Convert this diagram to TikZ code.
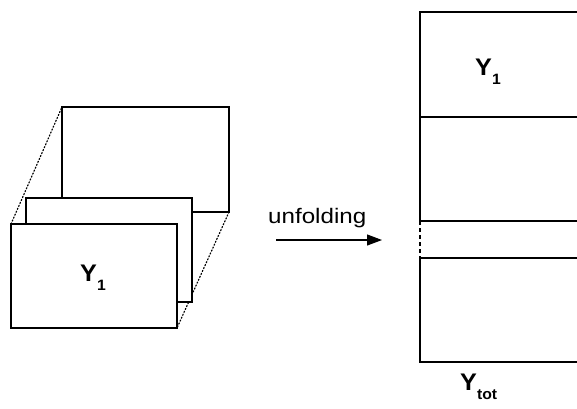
\documentclass[tikz,border=0pt]{standalone}
\usepackage{fontspec}
\setmainfont{Liberation Sans}
\usetikzlibrary{arrows.meta}
\newcommand{\subtxt}[1]{\raisebox{-0.38em}{\fontsize{15}{16}\selectfont #1}}
\begin{document}
\begin{tikzpicture}[x=1pt,y=-1pt,
  sheet/.style={draw=black,fill=white,line width=1.1pt},
  edge/.style={draw=black,line width=1.2pt,dotted,line cap=round},
  lab/.style={font=\fontsize{24}{26}\selectfont\bfseries,inner sep=0pt,anchor=base west,xscale=1.05}]
\useasboundingbox (0,0) rectangle (577,408);
% back sheet
\coordinate (btl) at (62,107);
\coordinate (btr) at (229,107);
\coordinate (bbr) at (229,212);
\coordinate (ftl) at (11,224);
\coordinate (ftr) at (177,224);
\coordinate (fbr) at (177,328);
\draw[edge] (ftl) -- (btl);
\draw[edge] (ftr) -- (btr);
\draw[edge] (bbr) -- (fbr);
\draw[sheet] (btl) rectangle (bbr);
\draw[sheet] (26,198) rectangle (192,302);
\draw[sheet] (ftl) rectangle (fbr);
\node[lab] (y1a) at (80,281) {Y\subtxt{1}};
% arrow
\node[font=\fontsize{21}{23}\selectfont,anchor=base west,inner sep=0pt,xscale=1.15] (unf) at (268,223) {unfolding};
\coordinate (a0) at (276,240);
\coordinate (a1) at (382,240);
\draw[line width=1.1pt,-{Triangle[length=15pt,width=11pt]}] (a0) -- (a1);
% unfolded matrix
\coordinate (rtl) at (420,12);
\coordinate (rbl) at (420,362);
\draw[line width=1.1pt] (577,12) -- (rtl) -- (420,221);
\draw[line width=1.1pt] (420,258) -- (rbl) -- (577,362);
\draw[line width=1.1pt,dash pattern=on 4pt off 3pt] (420,221) -- (420,258);
\draw[line width=1.1pt] (420,117) -- (577,117);
\draw[line width=1.1pt] (420,221) -- (577,221);
\draw[line width=1.1pt] (420,258) -- (577,258);
\node[lab] (y1b) at (475,75) {Y\subtxt{1}};
\node[lab] (ytot) at (460,390) {Y\subtxt{tot}};
\end{tikzpicture}
\end{document}
